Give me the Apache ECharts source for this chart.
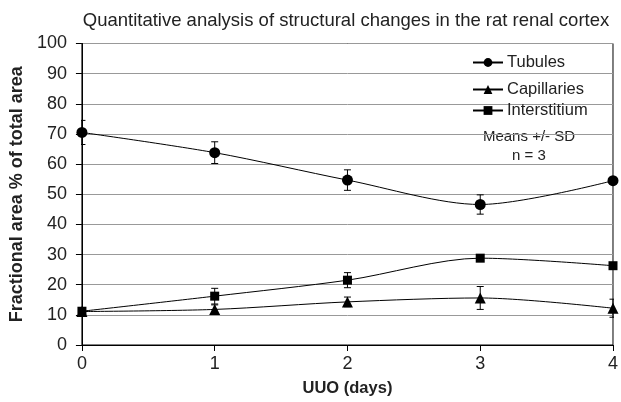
<!DOCTYPE html>
<html><head><meta charset="utf-8">
<script src="https://cdn.jsdelivr.net/npm/echarts@6/dist/echarts.min.js"></script>
<style>html,body{margin:0;padding:0;background:#fff}#c{width:621px;height:402px}</style>
</head><body><div id="c"></div>
<script>
const days = [0, 1, 2, 3, 4];
const seriesNames = ['Tubules', 'Capillaries', 'Interstitium'];
const tubules = [70.5, 63.8, 54.7, 46.6, 54.5];
const tubulesSD = [4.0, 3.6, 3.4, 3.2, 1.0];
const capillaries = [11.1, 11.8, 14.3, 15.6, 12.2];
const capillariesSD = [0.5, 1.5, 1.6, 3.8, 3.0];
const interstitium = [11.2, 16.2, 21.5, 28.8, 26.3];
const interstitiumSD = [0.5, 2.6, 2.5, 0.6, 0.6];
const yMin = 0, yMax = 100, yStep = 10;
const xMin = 0, xMax = 4, xStep = 1;

const FONT = '"Liberation Sans", Arial, sans-serif';
const pairs = (vals) => days.map((d, i) => [d, vals[i]]);
const errs = (vals, sd) => days.map((d, i) => [d, vals[i] - sd[i], vals[i] + sd[i]]);

function errRender(params, api) {
  const x = api.value(0), lo = api.value(1), hi = api.value(2);
  const a = api.coord([x, hi]), b = api.coord([x, lo]);
  const w = 3.5;
  const st = { stroke: '#000', lineWidth: 1 };
  return {
    type: 'group',
    children: [
      { type: 'line', shape: { x1: a[0], y1: a[1], x2: b[0], y2: b[1] }, style: st },
      { type: 'line', shape: { x1: a[0] - w, y1: a[1], x2: a[0] + w, y2: a[1] }, style: st },
      { type: 'line', shape: { x1: b[0] - w, y1: b[1], x2: b[0] + w, y2: b[1] }, style: st }
    ]
  };
}

function lineSeries(name, vals, symbol, size) {
  return {
    name, type: 'line', data: pairs(vals), smooth: 0.3,
    symbol, symbolSize: size,
    lineStyle: { color: '#000', width: 1 },
    itemStyle: { color: '#000' },
    z: 3
  };
}
function errSeries(vals, sd) {
  return { type: 'custom', data: errs(vals, sd), renderItem: errRender, clip: true, z: 2, silent: true,
    encode: { x: 0, y: [1, 2] } };
}
function legendAt(name, top) {
  return {
    orient: 'vertical', left: 472, top, itemWidth: 30, itemHeight: 11, padding: 0,
    textStyle: { fontFamily: FONT, fontSize: 16.5, color: '#222', padding: [0, 0, 0, -1] },
    data: [name]
  };
}

const chart = echarts.init(document.getElementById('c'), null, { renderer: 'canvas' });
chart.setOption({
  animation: false,
  backgroundColor: '#fff',
  textStyle: { fontFamily: FONT },
  title: {
    text: 'Quantitative analysis of structural changes in the rat renal cortex',
    left: 341, top: 6, textAlign: 'center',
    textStyle: { fontFamily: FONT, fontSize: 18.5, fontWeight: 'normal', color: '#222' }
  },
  grid: { left: 78, right: 3, top: 43.5, bottom: 57, show: true, borderColor: '#000', borderWidth: 1 },
  legend: [legendAt(seriesNames[0], 54), legendAt(seriesNames[1], 81), legendAt(seriesNames[2], 102)],
  graphic: [
    { type: 'text', x: 529, y: 129, style: { text: 'Means +/- SD', font: '15px ' + FONT, fill: '#222', align: 'center' } },
    { type: 'text', x: 529, y: 148, style: { text: 'n = 3', font: '15px ' + FONT, fill: '#222', align: 'center' } }
  ],
  xAxis: {
    type: 'value', min: xMin, max: xMax, interval: xStep,
    name: 'UUO (days)', nameLocation: 'middle', nameGap: 35,
    nameTextStyle: { fontFamily: FONT, fontSize: 16.5, fontWeight: 'bold', color: '#222' },
    axisLine: { lineStyle: { color: '#000' } },
    axisTick: { show: true, length: 6, lineStyle: { color: '#000' } },
    axisLabel: { fontFamily: FONT, fontSize: 18, color: '#222', margin: 10 },
    splitLine: { show: false }
  },
  yAxis: {
    type: 'value', min: yMin, max: yMax, interval: yStep,
    name: 'Fractional area % of total area', nameLocation: 'middle', nameGap: 51,
    nameTextStyle: { fontFamily: FONT, fontSize: 18, fontWeight: 'bold', color: '#222' },
    axisLine: { show: true, lineStyle: { color: '#000' } },
    axisTick: { show: true, length: 6, lineStyle: { color: '#000' } },
    axisLabel: { fontFamily: FONT, fontSize: 18, color: '#222', margin: 15 },
    splitLine: { show: true, lineStyle: { color: '#999', width: 1 } }
  },
  series: [
    errSeries(tubules, tubulesSD),
    errSeries(capillaries, capillariesSD),
    errSeries(interstitium, interstitiumSD),
    lineSeries('Tubules', tubules, 'circle', 11),
    lineSeries('Capillaries', capillaries, 'triangle', 11),
    lineSeries('Interstitium', interstitium, 'rect', 9)
  ]
});
</script></body></html>
